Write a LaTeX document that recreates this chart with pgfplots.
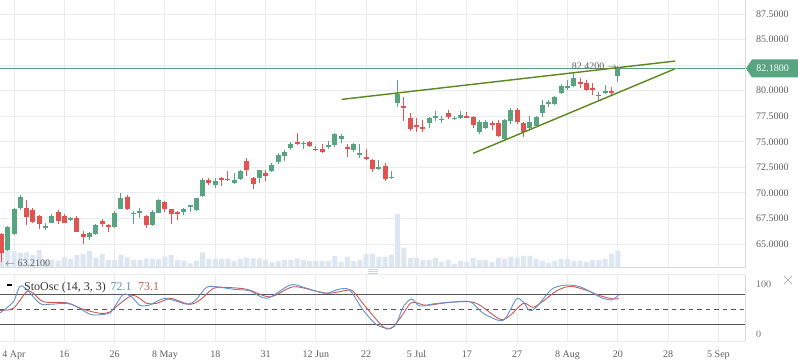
\documentclass[border=0pt]{standalone}
\usepackage{fontspec}
\setmainfont{Liberation Serif}
\usepackage{pgfplots}
\usepackage{pgfplotstable}
\pgfplotsset{compat=1.18}

\definecolor{cgreen}{RGB}{88,164,128}
\definecolor{cred}{RGB}{224,83,80}
\definecolor{cgraycandle}{RGB}{130,130,130}
\definecolor{cvol}{RGB}{220,231,242}
\definecolor{cgrid}{RGB}{233,236,239}
\definecolor{ctrend}{RGB}{90,136,28}
\definecolor{kblue}{RGB}{98,144,204}
\definecolor{dred}{RGB}{200,88,88}
\definecolor{ctext}{RGB}{95,95,95}
\definecolor{cref}{RGB}{85,85,85}
\definecolor{cbase}{RGB}{215,219,224}
\definecolor{chandle}{RGB}{200,212,225}

\newcommand\tf{\fontsize{10}{12}\selectfont}

\pgfplotstableread{
i o h l c
-1 64.40 66.80 64.30 66.65
0 65.95 68.50 65.90 68.40
1 68.50 69.80 68.30 69.60
5 66.60 67.10 66.40 66.75
6 67.10 67.95 67.05 67.70
9 67.40 67.65 67.30 67.50
12 65.70 66.15 65.40 66.10
13 65.97 66.95 65.90 66.85
16 66.70 68.20 66.60 68.05
17 68.45 70.00 68.40 69.50
19 67.95 68.20 67.00 68.05
20 68.00 68.50 67.50 68.20
22 66.85 68.30 66.75 68.15
23 68.05 69.40 68.00 69.30
27 68.10 68.55 67.85 68.40
28 68.65 68.85 68.15 68.80
29 68.30 69.50 68.25 69.50
30 69.70 71.45 69.60 71.30
32 70.80 71.50 70.50 71.20
35 70.97 71.90 70.90 71.23
36 71.40 72.25 71.30 72.15
39 71.45 72.25 70.95 72.20
41 72.10 72.90 72.05 72.70
42 73.00 73.90 72.80 73.75
43 73.60 74.20 73.10 74.05
44 74.40 74.95 74.15 74.75
46 74.80 75.05 74.30 74.87
50 74.58 75.10 74.30 74.68
51 74.65 75.85 74.50 75.80
52 75.25 75.75 74.85 75.60
54 74.15 74.85 74.00 74.75
55 73.70 74.75 73.45 73.90
58 72.40 73.25 72.25 72.45
60 71.45 72.10 71.35 71.60
61 78.80 81.00 78.40 79.70
66 76.80 77.40 76.35 77.30
67 77.40 78.05 77.00 77.50
68 77.15 77.55 76.80 77.25
70 77.25 77.55 77.10 77.35
71 77.35 78.05 77.25 77.65
74 75.95 77.10 75.75 76.90
75 76.35 77.10 76.25 76.90
78 75.25 77.20 75.10 77.10
79 77.00 78.35 76.75 78.10
82 76.35 77.55 76.25 76.90
83 76.55 77.50 76.45 77.45
84 77.80 79.05 77.40 78.65
85 78.70 79.10 78.40 78.85
86 78.70 79.50 78.65 79.40
87 79.75 80.65 79.70 80.50
88 80.25 81.05 80.05 80.50
89 80.50 81.80 80.40 81.25
94 79.80 80.60 79.70 80.00
96 81.45 82.42 80.90 82.18
}\greencandles

\pgfplotstableread{
i o h l c
-2 65.95 66.05 63.21 64.10
2 68.50 69.30 66.85 67.60
3 68.30 68.50 67.10 67.20
4 67.70 67.80 66.50 66.95
7 68.10 68.30 67.00 67.30
8 67.70 67.90 67.05 67.10
10 67.50 67.70 66.15 66.20
11 65.95 66.30 65.00 65.70
14 67.25 67.45 66.70 66.95
15 66.85 67.00 66.20 66.70
18 69.60 69.80 68.30 68.45
21 67.73 67.80 66.60 66.90
24 69.15 69.20 68.15 68.45
25 68.40 68.45 67.00 67.90
26 68.15 68.25 67.30 67.95
31 71.30 71.50 70.75 71.00
33 71.45 71.60 70.70 71.35
34 71.40 72.15 71.20 71.25
37 73.10 73.45 71.65 72.20
38 71.50 71.55 70.35 70.85
40 71.95 72.20 71.20 71.70
45 74.95 75.90 74.65 74.75
47 75.00 75.10 74.50 74.55
48 74.30 74.55 74.10 74.20
49 74.25 74.80 73.95 74.05
53 74.45 74.80 73.55 74.30
56 73.55 74.30 73.20 73.35
57 73.25 73.30 72.05 72.30
59 72.65 72.90 71.15 71.35
62 78.55 79.40 77.00 78.30
63 77.35 77.85 76.05 76.25
64 76.60 77.35 76.00 76.50
65 76.45 77.10 76.00 76.35
69 77.80 78.15 77.20 77.40
72 77.50 77.95 77.35 77.40
73 77.40 77.55 76.35 76.60
76 76.80 77.00 76.15 76.70
77 76.80 77.10 75.45 75.55
80 78.10 78.30 76.75 76.90
81 76.80 76.90 75.45 75.95
90 80.80 81.25 80.25 80.70
91 80.80 81.05 80.00 80.10
92 80.25 80.80 79.60 80.15
95 80.00 80.40 79.60 79.75
}\redcandles

\pgfplotstableread{
i o h l c
93 79.55 79.85 78.95 79.55
}\graycandles

\pgfplotstableread{
i v
-2 19
-1 17
0 16.3
1 14.7
2 15
3 12.3
4 17.3
5 7.3
6 7.3
7 6.7
8 9.7
9 8.3
10 12.3
11 13.3
12 16.3
13 9.7
14 13.3
15 7.3
16 7.3
17 12.3
18 10
19 7.3
20 7.3
21 9
22 8.3
23 8.3
24 10.7
25 12.3
26 7.3
27 6.7
28 4
29 6.7
30 15
31 8.3
32 8.3
33 8.3
34 8.3
35 6.3
36 8.3
37 9.7
38 9
39 9
40 7.3
41 5
42 6.3
43 7.3
44 7.3
45 9
46 7.3
47 6.3
48 6.3
49 6.3
50 6.3
51 11.3
52 5.3
53 10.3
54 6.3
55 7.3
56 13.3
57 13.3
58 10.3
59 10.3
60 12.3
61 53.3
62 19.3
63 9.3
64 9.3
65 7.3
66 7.3
67 9.3
68 5.3
69 7.3
70 3.3
71 6.3
72 5.3
73 9.3
74 7.3
75 7.3
76 5.3
77 9.3
78 8.3
79 10.3
80 9.3
81 11.3
82 11.3
83 8.3
84 6.3
85 4.3
86 6.3
87 8.3
88 8.3
89 6.3
90 6.3
91 5.3
92 7.3
93 7.3
94 8.3
95 13.3
96 16.3
}\volume

\pgfplotsset{
  pane/.style={scale only axis, width=745pt, xmin=-2.226, xmax=116.22,
    anchor=south west, axis line style={draw=none}, tick style={draw=none}},
  wick/.style={draw=none, mark=none, error bars/y dir=both, error bars/y explicit,
    error bars/error mark=none,
    error bars/error bar style={draw=#1, line width=1pt}},
  body/.style={draw=none, mark=none, error bars/y dir=both, error bars/y explicit,
    error bars/error mark=none,
    error bars/error bar style={draw=#1, line width=5pt}},
}

\begin{document}
\begin{tikzpicture}
\path[use as bounding box] (0,0) rectangle (798pt,-363pt);
\fill[white] (0,0) rectangle (798pt,-363pt);

% price grid + labels
\begin{axis}[pane, at={(0pt,-268pt)}, height=268pt, ymin=62.652, ymax=88.875,
  xtick={0,8,...,112}, xticklabel=\empty,
  ytick={65,67.5,70,72.5,75,77.5,80,85,87.5},
  extra y ticks={82.5}, extra y tick labels={},
  extra y tick style={grid=major},
  xmajorgrids, ymajorgrids, major grid style={draw=cgrid, line width=1pt},
  yticklabel pos=right,
  yticklabel style={anchor=west, inner sep=0pt, xshift=11pt, font=\tf, text=ctext},
  yticklabel={\pgfmathprintnumber[fixed,fixed zerofill,precision=4,assume math mode=true]{\tick}},
]
\addplot[draw=none] coordinates {(0,70)};
\end{axis}

% volume
\begin{axis}[pane, at={(0pt,-268pt)}, height=268pt, ymin=-0.7, ymax=267.3, hide axis]
\addplot[ybar, bar width=5pt, fill=cvol, draw=none] table[x=i,y=v] \volume;
\end{axis}

% candles
\begin{axis}[pane, at={(0pt,-268pt)}, height=268pt, ymin=62.652, ymax=88.875, hide axis, clip=false]
\addplot[cgreen, line width=1pt] coordinates {(-2.226,82.18) (116.22,82.18)};
\addplot[wick=cgreen] table[x=i, y expr={(\thisrow{h}+\thisrow{l})/2}, y error expr={(\thisrow{h}-\thisrow{l})/2}] \greencandles;
\addplot[body=cgreen] table[x=i, y expr={(\thisrow{o}+\thisrow{c})/2}, y error expr={max(abs(\thisrow{c}-\thisrow{o})/2,0.07)}] \greencandles;
\addplot[wick=cred] table[x=i, y expr={(\thisrow{h}+\thisrow{l})/2}, y error expr={(\thisrow{h}-\thisrow{l})/2}] \redcandles;
\addplot[body=cred] table[x=i, y expr={(\thisrow{o}+\thisrow{c})/2}, y error expr={max(abs(\thisrow{c}-\thisrow{o})/2,0.07)}] \redcandles;
\addplot[wick=cgraycandle] table[x=i, y expr={(\thisrow{h}+\thisrow{l})/2}, y error expr={(\thisrow{h}-\thisrow{l})/2}] \graycandles;
\addplot[body=cgraycandle] table[x=i, y expr={(\thisrow{o}+\thisrow{c})/2}, y error expr={max(abs(\thisrow{c}-\thisrow{o})/2,0.07)}] \graycandles;
\addplot[ctrend, line width=1.4pt] coordinates {(52.1,79.15) (105.1,82.9)};
\addplot[ctrend, line width=1.4pt] coordinates {(73.0,73.87) (105.0,82.12)};
\node[anchor=east, inner sep=0pt, font=\tf, text=ctext] at (axis cs:95.9,82.41) {82.4200 $\rightarrow$};
\node[anchor=west, inner sep=0pt, font=\tf, text=ctext] at (axis cs:-1.43,63.11) {$\leftarrow$ 63.2100};
\fill[cgreen] ([xshift=1pt]axis cs:116.22,82.18) -- ++(6pt,9pt) -- ++(47pt,0pt) -- ++(0pt,-18pt) -- ++(-47pt,0pt) -- cycle;
\node[text=white, font=\tf, inner sep=0pt] at ([xshift=27.5pt]axis cs:116.22,82.18) {82.1800};
\end{axis}

% oscillator
\begin{axis}[pane, at={(0pt,-342pt)}, height=67pt, ymin=-15.4, ymax=118.6,
  xtick={0,8,...,112},
  xticklabels={4 Apr,16,26,8 May,18,31,12 Jun,22,5 Jul,17,27,8 Aug,20,28,5 Sep},
  xmajorgrids, major grid style={draw=cgrid, line width=1pt},
  xticklabel style={anchor=base, inner sep=0pt, yshift=-15pt, font=\tf, text=ctext},
  ytick={0,100}, yticklabel pos=right,
  yticklabel style={anchor=west, inner sep=0pt, xshift=11pt, font=\tf, text=ctext},
  clip=false]
\draw[cref, line width=0.9pt] (axis cs:-2.226,80) -- (axis cs:116.22,80);
\draw[cref, line width=0.9pt] (axis cs:-2.226,20) -- (axis cs:116.22,20);
\draw[cref, line width=0.9pt, dash pattern=on 4.5pt off 4pt] (axis cs:-2.226,50) -- (axis cs:116.22,50);
\addplot[dred, line width=0.9pt, smooth] coordinates {
(-2.2,48) (-0.1,52) (2.0,85) (3.1,82) (4.7,65) (8.4,63) (11,50) (13.7,42) (15.3,45)
(16.9,62) (19,78) (21.1,62) (22.7,62) (24.8,72) (25.9,68) (28,60) (29.6,69) (31.7,92)
(33.3,94) (37,90) (40.7,75) (44.4,95) (48.1,86) (50.2,82) (52.9,88) (53.9,86) (56.1,52)
(58.7,15) (60,12) (61.6,36) (63,62) (64,63) (65.6,58) (69.3,64) (72.5,65) (74.1,58)
(77.3,30) (78.9,38) (81,62) (82.6,54) (84.7,72) (86.3,87) (88.4,96) (91,88) (93.2,77)
(95.3,70.6) (96.1,72)};
\addplot[kblue, line width=0.9pt, smooth] coordinates {
(-2.2,43) (-0.1,65) (1.2,97) (4.1,62) (5.7,60) (8.4,62) (10,55) (12.1,40) (13.7,39)
(15.3,43) (16.1,57) (17.4,80) (18.7,75) (20,58) (21.4,58) (22.9,67) (24,72) (25.6,67)
(27.7,60) (29,70) (30.6,94) (32.2,95) (34.9,90) (37.5,87) (40.2,72) (43.9,98.6) (46,94)
(48.1,86) (49.7,82) (51.8,90.6) (53.4,88) (55.5,48.6) (57.7,18.6) (59.8,12) (60.8,22)
(61.9,55) (63.2,70.6) (64.5,56.6) (66.7,61) (69.3,64) (72.5,65) (74.6,42) (77.3,27)
(78.3,35) (79.9,70.6) (81,64) (82,47) (83.1,55) (84.2,72) (85.7,92) (87.9,98.6) (90,95)
(92.1,82) (93.2,74) (95,68.6) (96.1,78.6)};
\end{axis}

% panel borders and decorations
\draw[cbase, line width=1pt] (0,-267.5pt) -- (745.5pt,-267.5pt);
\draw[cgrid, line width=1pt] (0,-275pt) -- (745.5pt,-275pt);
\draw[cgrid, line width=1pt] (0,-341.7pt) -- (745.5pt,-341.7pt);
\draw[gray!30, line width=1pt] (745.5pt,0pt) -- (745.5pt,-268pt);
\draw[gray!30, line width=1pt] (745.5pt,-275pt) -- (745.5pt,-342pt);
\foreach \yy in {269.5,271.5,273.5}
  \draw[chandle, line width=0.8pt] (368pt,-\yy pt) -- (378pt,-\yy pt);
\draw[gray!55, line width=0.8pt] (784pt,-276pt) -- (792pt,-284pt);
\draw[gray!55, line width=0.8pt] (784pt,-284pt) -- (792pt,-276pt);

% oscillator legend
\draw[black, line width=2pt] (7pt,-285pt) -- (12pt,-285pt);
\node[anchor=base west, inner sep=0pt, font=\fontsize{12}{14}\selectfont, text=black!80] at (24pt,-290.5pt) {StoOsc (14, 3, 3)};
\node[anchor=base west, inner sep=0pt, font=\fontsize{12}{14}\selectfont, text=kblue] at (110.5pt,-290.5pt) {72.1};
\node[anchor=base west, inner sep=0pt, font=\fontsize{12}{14}\selectfont, text=dred] at (138pt,-290.5pt) {73.1};
\end{tikzpicture}
\end{document}
